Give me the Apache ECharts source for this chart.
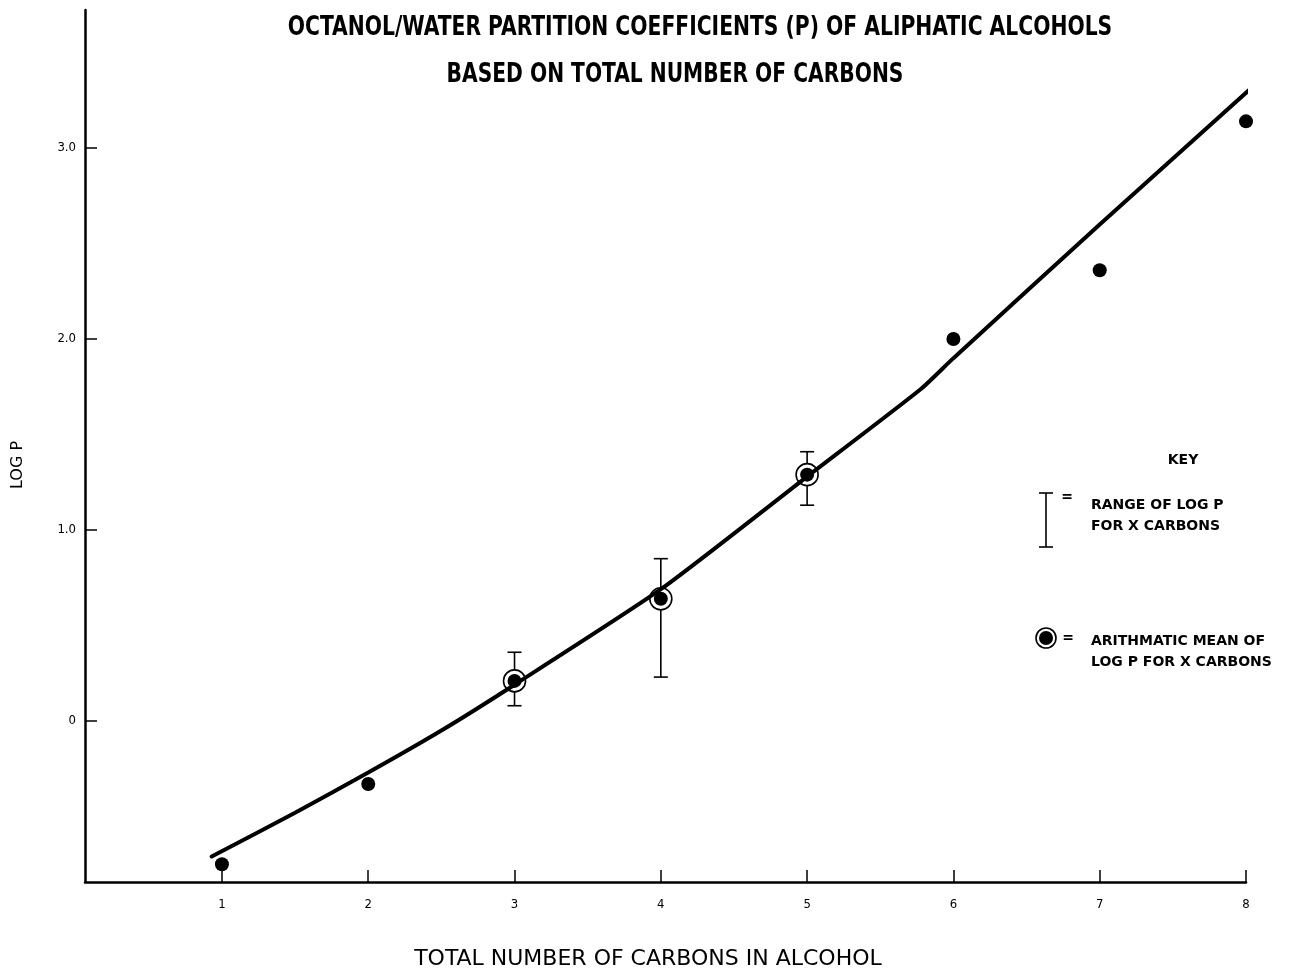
<!DOCTYPE html>
<html><head><meta charset="utf-8">
<script src="https://cdn.jsdelivr.net/npm/echarts@6/dist/echarts.min.js"></script>
<style>html,body{margin:0;padding:0;background:#fff}#c{width:1299px;height:971px}</style>
</head><body><div id="c"></div>
<script>
// ---- data ----
const carbons = [1, 2, 3, 4, 5, 6, 7, 8];
const logP = [-0.75, -0.33, 0.21, 0.64, 1.29, 2.0, 2.36, 3.14];
const meanCarbons = [3, 4, 5];
const meanLogP = [0.21, 0.64, 1.29];
const rangeLow = [0.08, 0.23, 1.13];
const rangeHigh = [0.36, 0.85, 1.41];
const fitX = [0.93, 1.5, 2, 2.5, 3, 4, 5, 5.78, 6, 7, 8.03];
const fitY = [-0.71, -0.48, -0.27, -0.05, 0.19, 0.69, 1.28, 1.74, 1.90, 2.60, 3.31];
const xTicks = [1, 2, 3, 4, 5, 6, 7, 8];
const yTicks = [0, 1, 2, 3];
const yTickLabels = ['0', '1.0', '2.0', '3.0'];

const chart = echarts.init(document.getElementById('c'));
const labelFont = 'DejaVu Sans Condensed, Liberation Sans Narrow, sans-serif';
const keyFont = 'bold 14px "DejaVu Sans", sans-serif';
const titleFont = 'bold 26px "Liberation Sans Narrow", "DejaVu Sans Condensed", sans-serif';

chart.setOption({
  backgroundColor: '#fff',
  animation: false,
  grid: { left: 85, right: 53, top: 10, bottom: 89, containLabel: false, outerBoundsMode: 'none' },
  xAxis: {
    type: 'value', min: 0.064, max: 8,
    axisLine: { onZero: false, lineStyle: { color: '#000', width: 2.5 } },
    axisTick: { inside: true, length: 12, customValues: xTicks, lineStyle: { color: '#000', width: 1.5 } },
    axisLabel: { customValues: xTicks, margin: 16, color: '#000', fontSize: 13, fontFamily: labelFont },
    splitLine: { show: false }
  },
  yAxis: {
    type: 'value', min: -0.843, max: 3.723,
    axisLine: { show: true, onZero: false, lineStyle: { color: '#000', width: 2.5 } },
    axisTick: { show: true, inside: true, length: 12, customValues: yTicks, lineStyle: { color: '#000', width: 1.5 } },
    axisLabel: { customValues: yTicks, margin: 9, color: '#000', fontSize: 13, fontFamily: labelFont,
      formatter: v => { const i = yTicks.indexOf(v); return i >= 0 ? yTickLabels[i] : ''; } },
    splitLine: { show: false }
  },
  series: [
    {
      type: 'custom', z: 2,
      data: meanCarbons.map((c, i) => [c, rangeLow[i], rangeHigh[i]]),
      renderItem: (params, api) => {
        const lo = api.coord([api.value(0), api.value(1)]);
        const hi = api.coord([api.value(0), api.value(2)]);
        const w = 7;
        const st = { stroke: '#000', lineWidth: 1.6 };
        return { type: 'group', children: [
          { type: 'line', shape: { x1: lo[0], y1: lo[1], x2: hi[0], y2: hi[1] }, style: st },
          { type: 'line', shape: { x1: lo[0] - w, y1: lo[1], x2: lo[0] + w, y2: lo[1] }, style: st },
          { type: 'line', shape: { x1: hi[0] - w, y1: hi[1], x2: hi[0] + w, y2: hi[1] }, style: st }
        ]};
      }
    },
    {
      type: 'scatter', z: 3, symbol: 'circle', symbolSize: 22,
      itemStyle: { color: '#fff', borderColor: '#000', borderWidth: 1.6, opacity: 1 },
      data: meanCarbons.map((c, i) => [c, meanLogP[i]])
    },
    {
      type: 'scatter', z: 4, symbol: 'circle', symbolSize: 14,
      itemStyle: { color: '#000', opacity: 1 },
      data: carbons.map((c, i) => [c, logP[i]])
    },
    {
      type: 'line', z: 5, smooth: 0.2, showSymbol: false, symbol: 'none',
      lineStyle: { color: '#000', width: 4, cap: 'round' },
      data: fitX.map((x, i) => [x, fitY[i]])
    }
  ],
  graphic: [
    { type: 'text', x: 700, y: 28, scaleX: 0.868, style: { text: 'OCTANOL/WATER PARTITION COEFFICIENTS (P) OF ALIPHATIC ALCOHOLS',
      font: titleFont, fill: '#000', align: 'center', verticalAlign: 'middle' } },
    { type: 'text', x: 675, y: 75, scaleX: 0.865, style: { text: 'BASED ON TOTAL NUMBER OF CARBONS',
      font: titleFont, fill: '#000', align: 'center', verticalAlign: 'middle' } },
    { type: 'text', x: 648, y: 960, scaleX: 1.165, style: { text: 'TOTAL NUMBER OF CARBONS IN ALCOHOL',
      font: '21px "DejaVu Sans Condensed", "Liberation Sans Narrow", sans-serif', fill: '#000', align: 'center', verticalAlign: 'middle' } },
    { type: 'text', x: 18, y: 465, rotation: Math.PI / 2, style: { text: 'LOG P',
      font: '16px "DejaVu Sans", sans-serif', fill: '#000', align: 'center', verticalAlign: 'middle' } },
    // key
    { type: 'text', x: 1183, y: 460, style: { text: 'KEY', font: keyFont, fill: '#000', align: 'center', verticalAlign: 'middle' } },
    { type: 'line', shape: { x1: 1046, y1: 493, x2: 1046, y2: 547 }, style: { stroke: '#000', lineWidth: 1.6 } },
    { type: 'line', shape: { x1: 1039, y1: 493, x2: 1053, y2: 493 }, style: { stroke: '#000', lineWidth: 1.6 } },
    { type: 'line', shape: { x1: 1039, y1: 547, x2: 1053, y2: 547 }, style: { stroke: '#000', lineWidth: 1.6 } },
    { type: 'text', x: 1067, y: 497, style: { text: '=', font: keyFont, fill: '#000', align: 'center', verticalAlign: 'middle' } },
    { type: 'text', x: 1091, y: 505, style: { text: 'RANGE OF LOG P', font: keyFont, fill: '#000', align: 'left', verticalAlign: 'middle' } },
    { type: 'text', x: 1091, y: 526, style: { text: 'FOR X CARBONS', font: keyFont, fill: '#000', align: 'left', verticalAlign: 'middle' } },
    { type: 'circle', shape: { cx: 1046, cy: 638, r: 10 }, style: { fill: '#fff', stroke: '#000', lineWidth: 1.6 } },
    { type: 'circle', shape: { cx: 1046, cy: 638, r: 7 }, style: { fill: '#000' } },
    { type: 'text', x: 1068, y: 638, style: { text: '=', font: keyFont, fill: '#000', align: 'center', verticalAlign: 'middle' } },
    { type: 'text', x: 1091, y: 641, style: { text: 'ARITHMATIC MEAN OF', font: keyFont, fill: '#000', align: 'left', verticalAlign: 'middle' } },
    { type: 'text', x: 1091, y: 662, style: { text: 'LOG P FOR X CARBONS', font: keyFont, fill: '#000', align: 'left', verticalAlign: 'middle' } }
  ]
});
</script></body></html>
